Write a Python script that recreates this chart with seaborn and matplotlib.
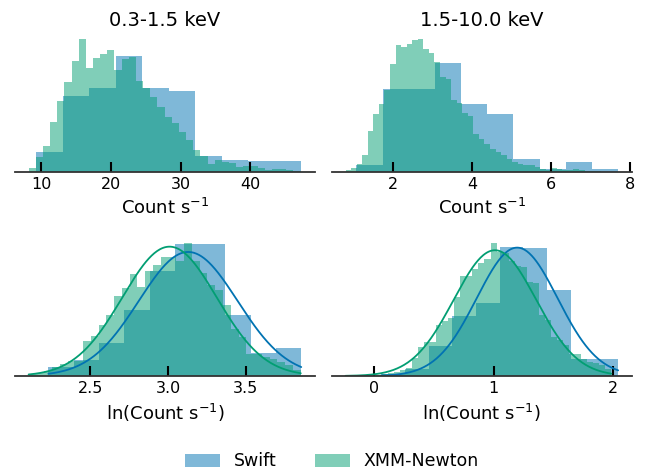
import numpy as np
import pandas as pd
import matplotlib
matplotlib.use("Agg")
import matplotlib.pyplot as plt
import seaborn as sns
from matplotlib.patches import Patch

sns.set_theme(style="white")
plt.rcParams["font.family"] = ["DejaVu Sans"]
plt.rcParams["text.color"] = "black"
plt.rcParams["axes.labelcolor"] = "black"

SWIFT_COLOR = "#0173B2"
XMM_COLOR = "#029E73"

# ---- binned count rates: (first edge, last edge) and per-bin counts ----
# 0.3-1.5 keV, count rate
soft_swift_range = (9.3, 47.3)
soft_swift_counts = [60, 225, 250, 345, 250, 240, 48, 35, 32, 32]
soft_xmm_range = (8.2, 47.2)
soft_xmm_counts = [12, 45, 78, 148, 212, 267, 330, 397, 310, 340, 353, 365, 305,
                   338, 343, 270, 250, 225, 195, 163, 145, 120, 95, 65, 48, 25,
                   37, 31, 28, 15, 17, 18, 12, 5, 10, 8, 5, 3]

# 1.5-10.0 keV, count rate
hard_swift_range = (1.06, 7.70)
hard_swift_counts = [22, 245, 245, 325, 202, 172, 40, 10, 30, 10]
hard_xmm_range = (0.786, 7.27)
hard_xmm_counts = [5, 12, 23, 50, 122, 173, 203, 245, 323, 380, 372, 383, 395,
                   398, 368, 356, 330, 285, 278, 215, 205, 175, 167, 115, 100,
                   85, 70, 60, 50, 40, 30, 25, 22, 20, 15, 8, 7, 13, 8, 5, 5,
                   10, 7, 4, 3, 2]

# 0.3-1.5 keV, ln(count rate)
soft_ln_swift_range = (2.231, 3.857)
soft_ln_swift_counts = [28, 47, 99, 197, 312, 391, 391, 182, 69, 82]
soft_ln_xmm_range = (2.104, 3.854)
soft_ln_xmm_counts = [5, 8, 15, 28, 36, 44, 44, 104, 119, 154, 184, 239, 264,
                      304, 267, 314, 331, 356, 356, 344, 399, 344, 309, 272,
                      257, 212, 142, 117, 65, 65, 57, 52, 42, 32, 19]

# 1.5-10.0 keV, ln(count rate)
hard_ln_swift_range = (0.058, 2.041)
hard_ln_swift_counts = [5, 20, 87, 172, 209, 369, 367, 247, 49, 49]
hard_ln_xmm_range = (-0.240, 1.984)
hard_ln_xmm_counts = [1, 1, 2, 2, 3, 4, 6, 8, 12, 18, 25, 54, 86, 101, 101,
                      154, 164, 175, 236, 299, 299, 319, 339, 349, 399, 372,
                      368, 344, 330, 326, 282, 279, 182, 167, 117, 107, 92,
                      67, 67, 52, 42, 38, 32, 20]

# normal fits to ln(count rate): mean, sigma
soft_ln_swift_fit = (3.13, 0.317)
soft_ln_xmm_fit = (3.01, 0.304)
hard_ln_swift_fit = (1.196, 0.338)
hard_ln_xmm_fit = (1.01, 0.345)

titles = ["0.3-1.5 keV", "1.5-10.0 keV"]
xlabels = [r"Count s$^{-1}$", r"ln(Count s$^{-1}$)"]
xticks = [[10, 20, 30, 40], [2, 4, 6, 8], [2.5, 3.0, 3.5], [0, 1, 2]]


def draw_hist(ax, rng, counts, color):
    edges = np.linspace(rng[0], rng[1], len(counts) + 1)
    df = pd.DataFrame({"rate": 0.5 * (edges[:-1] + edges[1:]),
                       "n": np.asarray(counts, dtype=float)})
    sns.histplot(data=df, x="rate", weights="n", bins=edges.tolist(),
                 stat="density", color=color, alpha=0.5, linewidth=0, ax=ax)


def draw_fit(ax, rng, fit, color):
    mu, sigma = fit
    x = np.linspace(rng[0], rng[1], 300)
    y = np.exp(-0.5 * ((x - mu) / sigma) ** 2) / (sigma * np.sqrt(2 * np.pi))
    sns.lineplot(x=x, y=y, color=color, linewidth=1.3, ax=ax)


fig, axes = plt.subplots(2, 2, figsize=(6.46, 4.72), dpi=100)
fig.subplots_adjust(left=0.0232, right=0.978, bottom=0.2034, top=0.932,
                    wspace=0.0567, hspace=0.457)

panels = [
    (soft_swift_range, soft_swift_counts, soft_xmm_range, soft_xmm_counts, None, None),
    (hard_swift_range, hard_swift_counts, hard_xmm_range, hard_xmm_counts, None, None),
    (soft_ln_swift_range, soft_ln_swift_counts, soft_ln_xmm_range, soft_ln_xmm_counts,
     soft_ln_swift_fit, soft_ln_xmm_fit),
    (hard_ln_swift_range, hard_ln_swift_counts, hard_ln_xmm_range, hard_ln_xmm_counts,
     hard_ln_swift_fit, hard_ln_xmm_fit),
]

for i, (ax, p) in enumerate(zip(axes.flat, panels)):
    s_rng, s_cnt, x_rng, x_cnt, s_fit, x_fit = p
    draw_hist(ax, s_rng, s_cnt, SWIFT_COLOR)
    draw_hist(ax, x_rng, x_cnt, XMM_COLOR)
    if s_fit is not None:
        draw_fit(ax, s_rng, s_fit, SWIFT_COLOR)
        draw_fit(ax, x_rng, x_fit, XMM_COLOR)
    ax.set_axisbelow("line")
    ax.set_xticks(xticks[i])
    ax.set_yticks([])
    ax.set_ylabel("")
    ax.set_xlabel(xlabels[i // 2], fontsize=13)
    if i < 2:
        ax.set_title(titles[i], fontsize=14, pad=4.5)
    for side in ["left", "top", "right"]:
        ax.spines[side].set_visible(False)
    ax.spines["bottom"].set_color("#333333")
    ax.spines["bottom"].set_linewidth(1.3)
    ax.tick_params(axis="x", direction="in", length=7.5, width=1.5,
                   color="black", labelsize=11.5, labelcolor="black", bottom=True)

handles = [Patch(facecolor=SWIFT_COLOR, alpha=0.5, edgecolor="none"),
           Patch(facecolor=XMM_COLOR, alpha=0.5, edgecolor="none")]
fig.legend(handles, ["Swift", "XMM-Newton"], loc="center",
           bbox_to_anchor=(0.514, 1 - 461.5 / 472), ncol=2, frameon=False,
           fontsize=12.5, handlelength=2.0, columnspacing=2.2)

fig.savefig("out.png", dpi=100)
